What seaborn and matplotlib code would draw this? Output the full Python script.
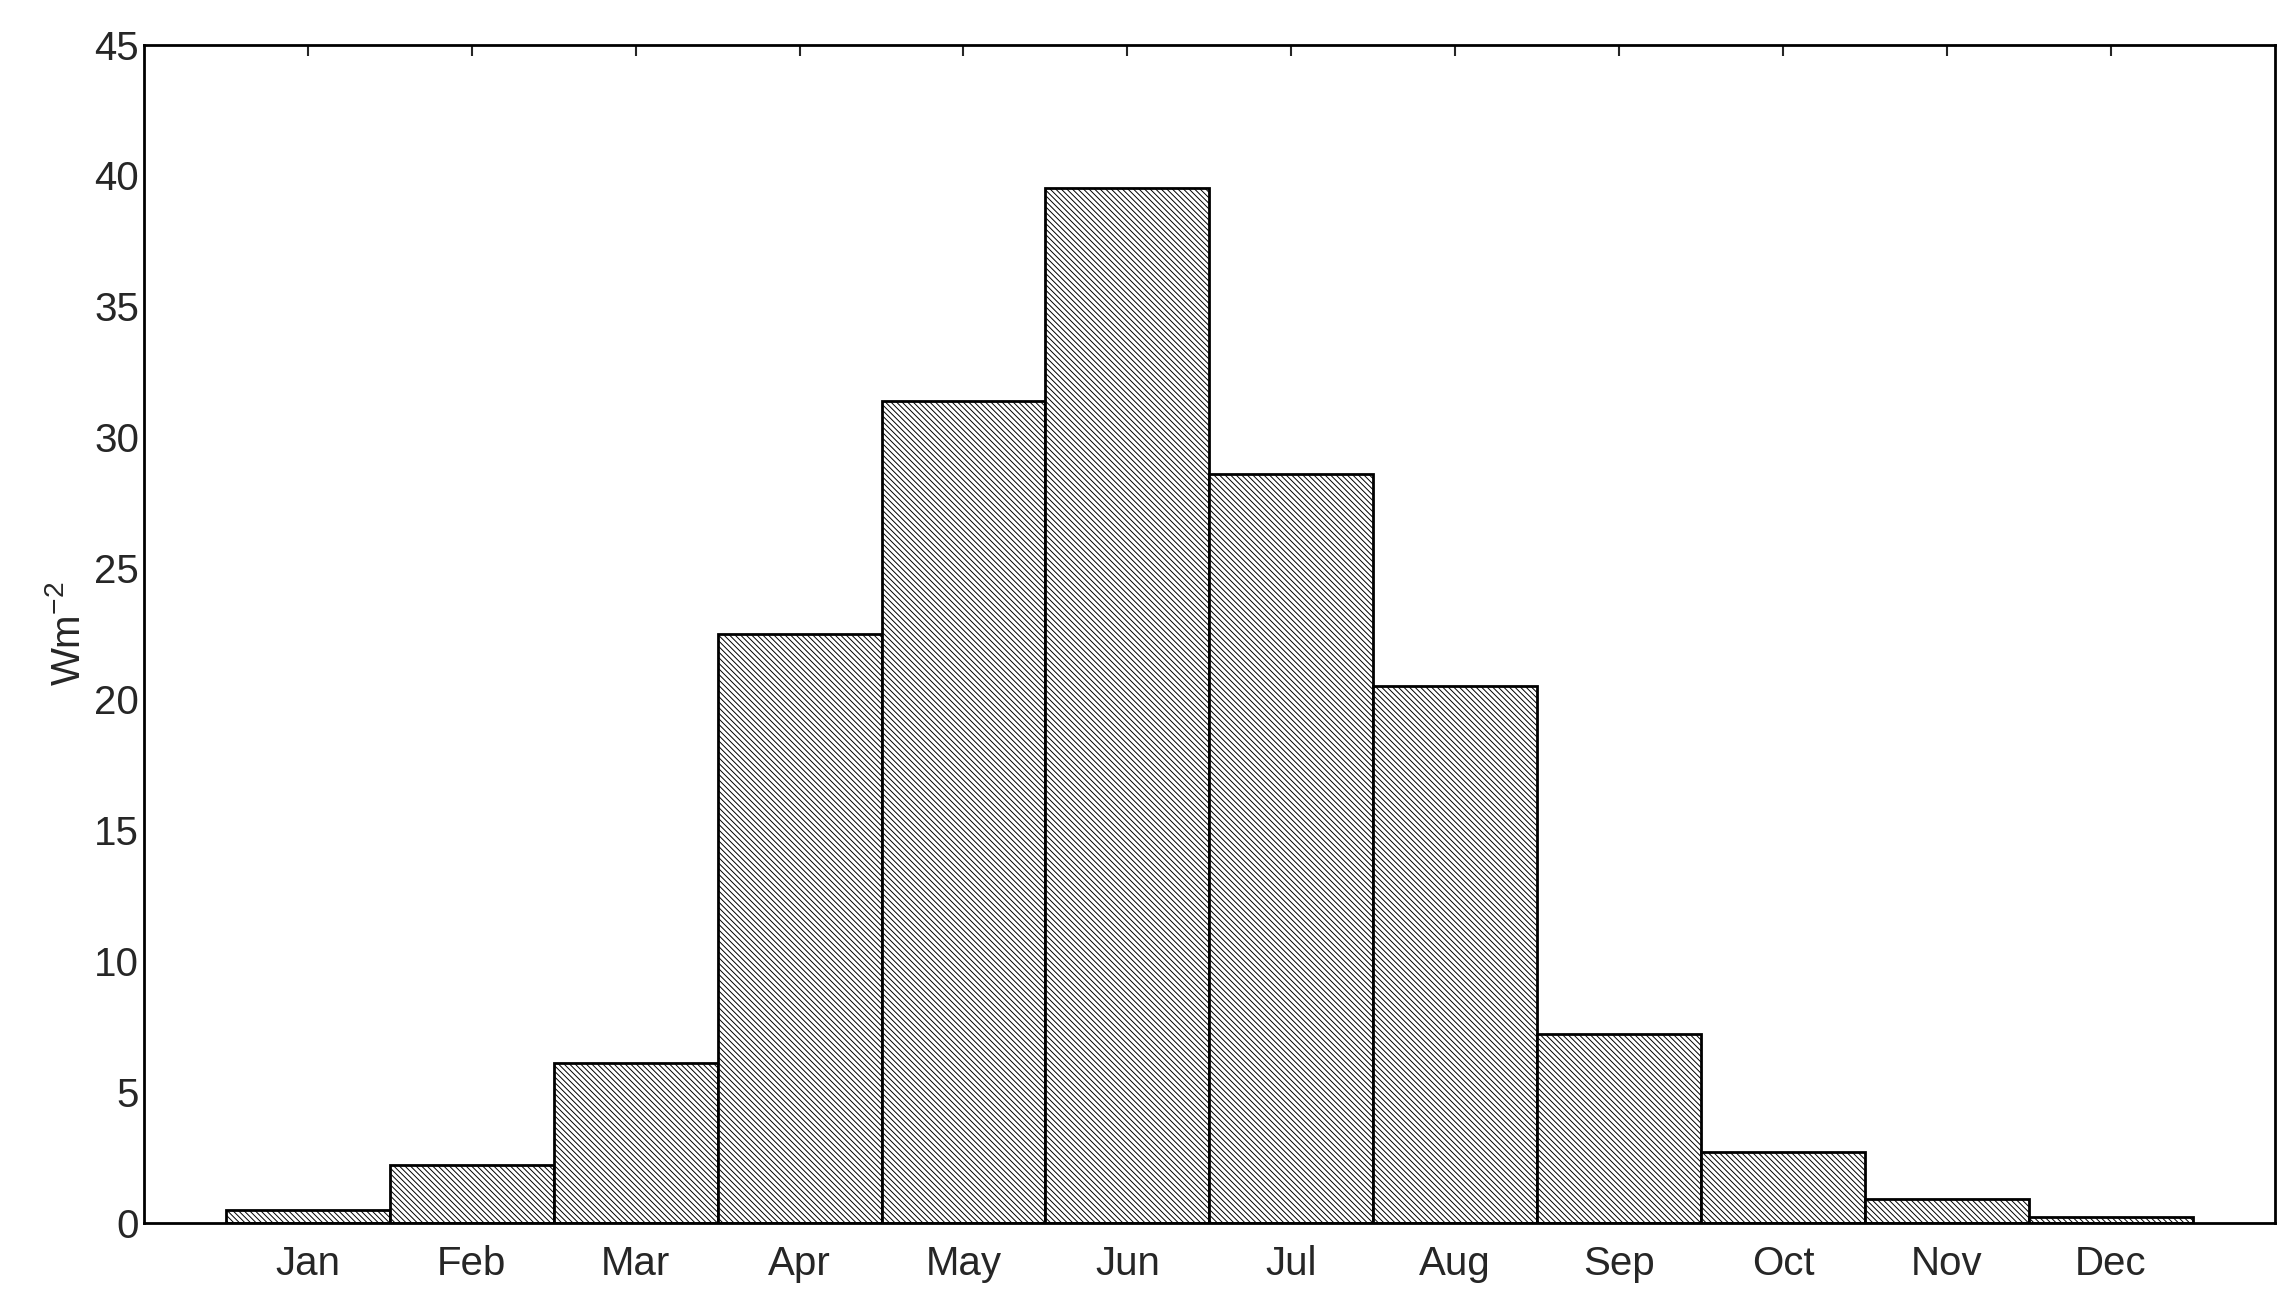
import matplotlib
matplotlib.use("Agg")
import matplotlib.pyplot as plt
import seaborn as sns
import pandas as pd
from matplotlib.ticker import MultipleLocator

months = ["Jan", "Feb", "Mar", "Apr", "May", "Jun", "Jul", "Aug", "Sep", "Oct", "Nov", "Dec"]
values = [0.5, 2.2, 6.1, 22.5, 31.4, 39.5, 28.6, 20.5, 7.2, 2.7, 0.9, 0.2]

sns.set_style("white")
plt.rcParams['font.family'] = ['Liberation Sans', 'DejaVu Sans']
plt.rcParams['hatch.linewidth'] = 0.7
plt.rcParams['hatch.color'] = '#444444'

df = pd.DataFrame({"month": months, "val": values})
fig, ax = plt.subplots(figsize=(22.84, 13.09), dpi=100)
fig.subplots_adjust(left=0.063, right=0.996, top=0.966, bottom=0.066)

sns.barplot(data=df, x="month", y="val", color="#e8e8e8", width=1.0,
            edgecolor="black", linewidth=2, saturation=1, ax=ax)
for p in ax.patches:
    p.set_hatch("\\\\\\\\\\\\")
    p.set_facecolor("white")
    p.set_edgecolor("black")

ax.set_xlim(-1.0, 12.0)
ax.set_ylim(0, 45)
ax.yaxis.set_major_locator(MultipleLocator(5))
ax.yaxis.set_minor_locator(MultipleLocator(1))
ax.tick_params(axis="both", which="both", direction="in", top=True, right=False)
ax.tick_params(which="major", length=8, width=1.5, labelsize=29)
ax.tick_params(which="minor", length=4, width=1.2)
ax.tick_params(axis="x", pad=16)
ax.set_xlabel("")
ax.set_ylabel("Wm$^{\\mathregular{-2}}$", fontsize=29, labelpad=4)
for s in ax.spines.values():
    s.set_linewidth(2)
    s.set_color("black")

fig.savefig("out.png", dpi=100)
